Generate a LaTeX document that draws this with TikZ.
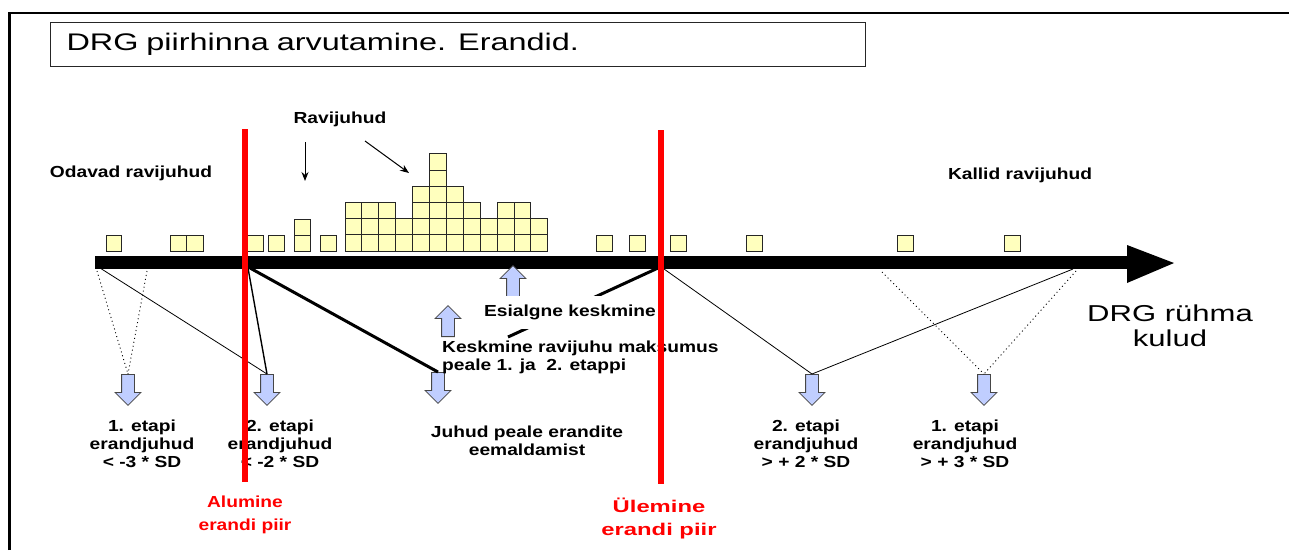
\documentclass[tikz,border=0pt]{standalone}
\usepackage{fontspec}
\setmainfont{Liberation Sans}
\newfontfamily\lblfont[FakeStretch=1.2]{Liberation Sans}
\newfontfamily\ttlfont[FakeStretch=1.35]{Liberation Sans}
\newfontfamily\redfont[FakeStretch=1.4]{Liberation Sans}
\usetikzlibrary{arrows.meta,shapes.arrows}
\definecolor{boxyellow}{RGB}{255,255,190}
\definecolor{arrblue}{RGB}{192,206,255}
\definecolor{arrline}{RGB}{70,70,70}
\definecolor{piirred}{RGB}{255,0,0}
\begin{document}
\begin{tikzpicture}[x=1pt,y=-1pt,
  lbl/.style={font=\lblfont\bfseries\fontsize{16}{18}\selectfont, inner sep=1pt, align=center},
  redlbl/.style={font=\redfont\bfseries\fontsize{17}{23}\selectfont, text=piirred, inner sep=1pt, align=center},
  bigtxt/.style={font=\ttlfont\fontsize{23}{25}\selectfont, inner sep=1pt, align=center},
  casebox/.style={draw=black!85, fill=boxyellow, line width=0.9pt},
  downarr/.style={single arrow, draw=arrline, fill=arrblue, line width=0.8pt,
     minimum height=31pt, single arrow head extend=6.5pt, inner sep=6pt,
     shape border rotate=270, anchor=tail},
  uparr/.style={downarr, shape border rotate=90},
  thinln/.style={line width=0.8pt},
  medln/.style={line width=1.4pt},
  thickln/.style={line width=3pt},
  dotln/.style={line width=0.9pt, dash pattern=on 1pt off 3pt},
  piir/.style={draw=piirred, line width=6pt},
  pointer/.style={line width=1pt, -{Stealth[length=9pt,width=7pt]}}
]
\useasboundingbox (0,0) rectangle (1289,550);
% frame
\draw[line width=2.5pt] (9.5,550) -- (9.5,13) -- (1289,13);
% title
\node[draw=black!85, line width=1pt, anchor=north west, minimum width=815pt, minimum height=44pt,
      text width=783pt, inner xsep=16pt, align=left, font=\ttlfont\fontsize{24}{26}\selectfont]
      (title) at (50,22) {DRG piirhinna arvutamine. Erandid.};
% histogram stack
\foreach \x/\h in {345/3,361.9/3,378.8/3,395.7/2,412.6/4,429.5/6,446.4/4,463.3/3,480.2/2,497.1/3,514/3,530.9/2}{
  \foreach \k in {1,...,\h}{
    \draw[casebox] (\x,{251-(\k-1)*16.2}) rectangle ++(16.9,-16.2);
  }
}
% single cases
\foreach \x/\h/\w in {106/1/15,170/1/16.5,186.5/1/16.5,247/1/16,268/1/16.5,294/2/16.5,320/1/16.5,596/1/16,629/1/16,670/1/16,746/1/16,897/1/16,1004/1/16}{
  \foreach \k in {1,...,\h}{
    \draw[casebox] (\x,{251-(\k-1)*16}) rectangle ++(\w,-16);
  }
}
% axis
\fill (95,256) rectangle (1128,269);
\fill (1127,245) -- (1174,263) -- (1127,283) -- cycle;
% axis points
\coordinate (axL) at (100,268);
\coordinate (axLr) at (248,268);
\coordinate (axLr2) at (250,268);
\coordinate (axRr) at (658,268);
\coordinate (axRr2) at (664,269);
\coordinate (axE) at (1073,269);
\coordinate (dA) at (97,271);
\coordinate (dB) at (147,271);
\coordinate (dC) at (882,272);
\coordinate (dD) at (1076,271);
\coordinate (bend1) at (242,358);
\coordinate (kp) at (508,337);
% block arrows
\node[downarr] (a1) at (128,374) {};
\node[downarr] (a2) at (267,374) {};
\node[downarr] (a3) at (438,372) {};
\node[downarr] (a4) at (812,374) {};
\node[downarr] (a5) at (984,374) {};
\node[uparr] (u1) at (513,297) {};
\node[uparr] (u2) at (448,337) {};
% connectors
\draw[dotln] (dA) -- (a1.tail);
\draw[dotln] (dB) -- (a1.tail);
\draw[thinln] (axL) -- (bend1) -- (a2.tail);
\draw[medln] (axLr) -- (a2.tail);
\draw[thickln] (axLr2) -- (a3.tail);
\draw[thickln] (axRr) -- (kp);
\draw[thinln] (axRr2) -- (a4.tail);
\draw[thinln] (a4.tail) -- (axE);
\draw[dotln] (dC) -- (a5.tail);
\draw[dotln] (dD) -- (a5.tail);
% labels
\node[lbl] (ravi) at (340,119) {Ravijuhud};
\coordinate (rv1) at (305,142);
\coordinate (rv1e) at (305,181);
\coordinate (rv2) at (365,141);
\coordinate (rv2e) at (409,173);
\draw[pointer] (rv1) -- (rv1e);
\draw[pointer] (rv2) -- (rv2e);
\node[lbl] (odav) at (131,173) {Odavad ravijuhud};
\node[lbl] (kall) at (1020,175) {Kallid ravijuhud};
\node[lbl, fill=white, inner xsep=2pt, inner ysep=9pt] (esi) at (570,312) {Esialgne keskmine};
\node[lbl, anchor=north west, align=left] (kesk) at (441,340) {Keskmine ravijuhu maksumus\\peale 1. ja\ \ 2. etappi};
\node[lbl] (juhud) at (527,441) {Juhud peale erandite\\eemaldamist};
\node[lbl] (e1l) at (142,444) {1. etapi\\erandjuhud\\< -3 * SD};
\node[lbl] (e2l) at (280,444) {2. etapi\\erandjuhud\\< -2 * SD};
\node[lbl] (e2r) at (806,444) {2. etapi\\erandjuhud\\> + 2 * SD};
\node[lbl] (e1r) at (965,444) {1. etapi\\erandjuhud\\> + 3 * SD};
\node[bigtxt] (drg) at (1170,326) {DRG rühma\\kulud};
\node[redlbl, font=\lblfont\bfseries\fontsize{16}{23}\selectfont] (alum) at (245,515) {Alumine\\erandi piir};
\node[redlbl] (ulem) at (659,518) {Ülemine\\erandi piir};
% red limits
\coordinate (rlT) at (245,129);
\coordinate (rlB) at (245,482);
\coordinate (rrT) at (661,130);
\coordinate (rrB) at (661,484);
\draw[piir] (rlT) -- (rlB);
\draw[piir] (rrT) -- (rrB);
\end{tikzpicture}
\end{document}
